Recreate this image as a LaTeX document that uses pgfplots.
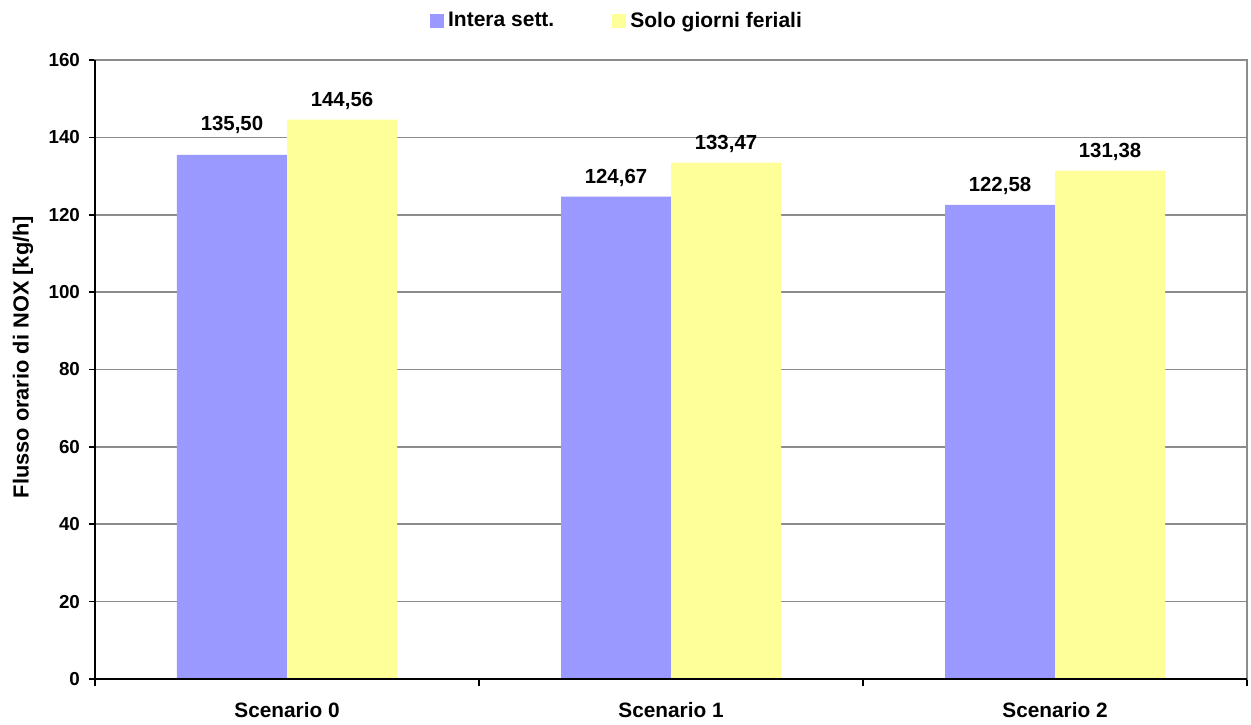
\documentclass[border=0pt]{standalone}
\usepackage{fontspec}
\setmainfont{Liberation Sans}
\usepackage{pgfplots}
\pgfplotsset{compat=1.18}
\definecolor{cblue}{HTML}{9999FF}
\definecolor{cyel}{HTML}{FFFF99}
\begin{document}
\begin{tikzpicture}
\begin{axis}[
  at={(0pt,0pt)}, anchor=south west,
  scale only axis,
  width=576pt, height=309.5pt,
  xmin=-0.5, xmax=2.5, ymin=0, ymax=160,
  ybar=0pt, bar width=55pt,
  xtick={0,1,2},
  xticklabels={Scenario 0,Scenario 1,Scenario 2},
  major x tick style={draw=none},
  minor xtick={-0.5,0.5,1.5,2.5},
  minor x tick style={black, line width=0.8pt},
  ytick={0,20,...,160},
  tick pos=left,
  ymajorgrids,
  major grid style={gray!90, line width=0.8pt},
  major y tick style={black, line width=0.8pt},
  tick align=outside,
  major tick length=3pt, minor tick length=3.5pt,
  axis line style={gray!90, line width=0.8pt},
  /pgf/number format/assume math mode=true,
  yticklabel style={font=\fontsize{9.4}{11}\selectfont\bfseries, xshift=-1pt},
  xticklabel style={font=\fontsize{10.4}{12}\selectfont\bfseries, yshift=-5pt},
  ylabel={Flusso orario di NOX [kg/h]},
  ylabel style={font=\fontsize{10.9}{12}\selectfont\bfseries, at={(axis description cs:-0.0625,0.52)}, anchor=center},
  visualization depends on={value \thisrow{off} \as \offs},
  nodes near coords={\pgfmathprintnumber[fixed,zerofill,precision=2,use comma]{\pgfplotspointmeta}},
  nodes near coords style={font=\fontsize{10.2}{12}\selectfont\bfseries, anchor=south, inner sep=0pt, yshift=5pt, yshift=\offs pt},
  legend style={at={(axis description cs:0.454,1.063)}, anchor=center, draw=none, fill=none,
    legend columns=2, font=\fontsize{10.5}{12}\selectfont\bfseries,
    /tikz/every even column/.append style={column sep=27pt}},
  legend image code/.code={\fill[#1] (-1pt,-3.5pt) rectangle (6pt,3.5pt);},
  after end axis/.code={\draw[black, line width=0.8pt] (rel axis cs:0,1) -- (rel axis cs:0,0) -- (rel axis cs:1,0);},
]
\addplot[fill=cblue, draw=none] table[x=x, y=y] {
x y off
0 135.50 5.5
1 124.67 0
2 122.58 0
};
\addplot[fill=cyel, draw=none] table[x=x, y=y] {
x y off
0 144.56 0
1 133.47 0
2 131.38 0
};
\legend{Intera sett.,Solo giorni feriali}
\end{axis}
\useasboundingbox (-47.5pt,-21.5pt) rectangle (578pt,339.5pt);
\end{tikzpicture}
\end{document}
